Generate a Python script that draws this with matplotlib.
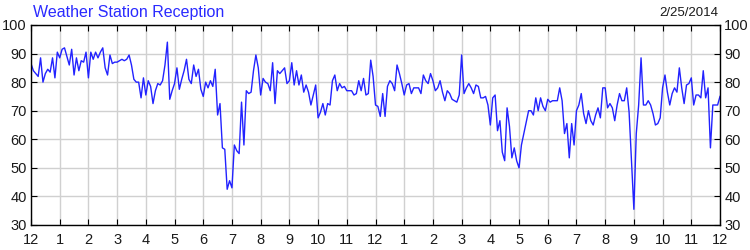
import numpy as np
import matplotlib
matplotlib.use('Agg')
import matplotlib.pyplot as plt

# signal level, one reading every 5 minutes, midnight to midnight
hour00 = [86.5, 84, 83, 82, 88.5, 80, 83, 84.5, 83.5, 88.5, 81.5, 90.5]
hour01 = [88.5, 91.5, 92, 89, 86, 91.5, 82.5, 88.5, 84, 87.5, 87, 90.5]
hour02 = [81.5, 90.5, 88, 90.5, 88.5, 90.5, 92, 85, 82.5, 89.5, 86.5, 87]
hour03 = [87, 87.5, 88, 87.5, 88, 89.5, 86, 81, 80, 80, 74.5, 81.5]
hour04 = [75.5, 80.5, 78.5, 72.5, 77, 79.5, 79, 80.5, 86, 94, 74, 77]
hour05 = [79.5, 85, 77.5, 81, 84, 88, 81, 79.5, 86, 82, 84.5, 77.5]
hour06 = [75, 80, 78, 80.5, 78.5, 84.5, 68.5, 72.5, 57, 56.5, 42.5, 45.5]
hour07 = [43, 58, 56, 55, 73, 58, 77, 76, 76.5, 84, 89.5, 85]
hour08 = [75.5, 81.3, 80, 79.5, 77, 86.8, 72.5, 84, 83, 84, 85, 79.5]
hour09 = [80.5, 86.8, 79, 84, 79, 82.5, 76.5, 79, 76.5, 72, 75.5, 79]
hour10 = [67.5, 69.5, 72.5, 68.5, 72.5, 72, 80.5, 82.5, 77, 79.5, 78, 78.5]
hour11 = [77, 77, 77, 75.5, 76, 80.5, 77, 81.3, 75.5, 76, 87.7, 82]
hour12 = [72, 71.5, 68, 76, 68, 78.5, 80.5, 79.5, 77, 86, 83, 79.5]
hour13 = [75.5, 79, 79.5, 76, 78, 78, 78, 76, 82.5, 80.5, 79.5, 83]
hour14 = [80.5, 77, 78, 80.5, 76.5, 73.5, 77, 76, 74, 73.5, 73, 75.5]
hour15 = [89.5, 76, 78, 79.5, 78, 76, 79, 78.5, 74.5, 74.5, 75, 72]
hour16 = [65, 74.5, 75.5, 63, 66.5, 55.5, 52.5, 71, 64.5, 53.5, 57, 52.5]
hour17 = [50, 58, 62, 66, 70, 70, 68.5, 74.5, 70, 74.5, 71.5, 70]
hour18 = [74, 73, 73.5, 73.5, 73.5, 78, 73.5, 62, 65.5, 53.5, 65.5, 58]
hour19 = [70, 72, 76, 69, 65.5, 70, 66.5, 65, 68.5, 71, 67.5, 78]
hour20 = [78, 71, 72.5, 71, 66.5, 72, 76, 73.5, 73.5, 78, 69.5, 52.5]
hour21 = [35.5, 62, 72, 88.5, 72, 72, 73.5, 72, 69, 65, 65.5, 67.5]
hour22 = [78, 82.5, 76.5, 72, 76, 78, 76.5, 85, 78, 72.5, 79, 79.5]
hour23 = [81.5, 72, 75.5, 75.5, 74.5, 84, 74.5, 78, 57, 72, 72, 72]
last_reading = [75]

reception = (hour00 + hour01 + hour02 + hour03 + hour04 + hour05 + hour06 + hour07 +
             hour08 + hour09 + hour10 + hour11 + hour12 + hour13 + hour14 + hour15 +
             hour16 + hour17 + hour18 + hour19 + hour20 + hour21 + hour22 + hour23 +
             last_reading)
hours = np.arange(len(reception)) * 5 / 60.0

hour_labels = ['12'] + [str(h) for h in range(1, 12)] + ['12'] + [str(h) for h in range(1, 12)] + ['12']
y_ticks = [30, 40, 50, 60, 70, 80, 90, 100]

plt.rcParams['font.family'] = ['Liberation Sans', 'DejaVu Sans']

fig = plt.figure(figsize=(7.5, 2.5), dpi=100)
ax = fig.add_axes([31 / 750, 25 / 250, 689 / 750, 200 / 250])

ax.plot(hours, reception, color='#2222ff', linewidth=1.0)

ax.set_xlim(0, 24)
ax.set_ylim(30, 100)
ax.set_xticks(range(25))
ax.set_xticklabels(hour_labels)
ax.set_yticks(y_ticks)
ax.grid(True, color='#d0d0d0', linewidth=1.0)
ax.set_axisbelow(True)

ax.tick_params(axis='x', direction='in', top=True, bottom=True, length=4,
               labelsize=10.5, pad=6, colors='black', labelcolor='#1a1a1a')
ax.tick_params(axis='y', direction='in', left=True, right=True, labelleft=True,
               labelright=True, length=4, labelsize=10.5, pad=3, labelcolor='#1a1a1a')
for s in ax.spines.values():
    s.set_color('black')
    s.set_linewidth(1.0)

fig.text(33 / 750, 1 - 12 / 250, 'Weather Station Reception', color='#2a2aff',
         fontsize=11.5, ha='left', va='center')
fig.text(718 / 750, 1 - 13 / 250, '2/25/2014', color='#1a1a1a',
         fontsize=9.5, ha='right', va='center')

fig.savefig('out.png', dpi=100)
